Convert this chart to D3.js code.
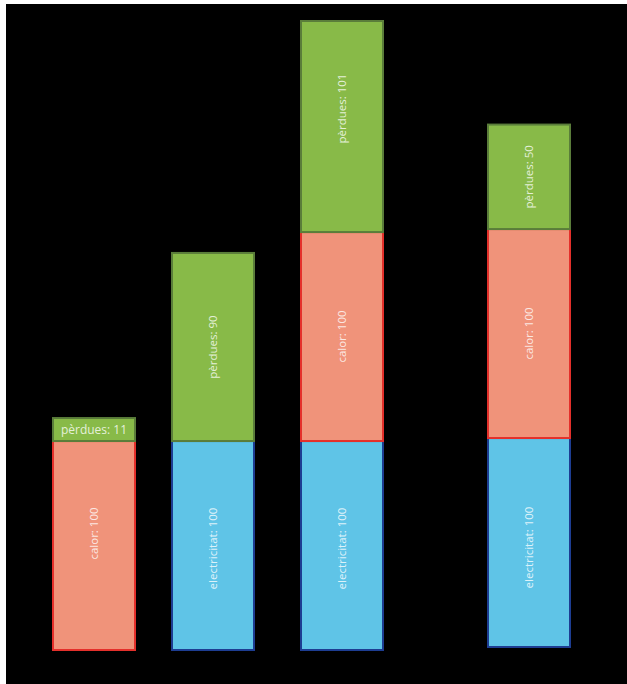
<!DOCTYPE html>
<html>
<head>
<meta charset="utf-8">
<script src="https://cdn.jsdelivr.net/npm/d3@7"></script>
<style>
  html, body { margin: 0; padding: 0; background: #ffffff; }
  svg { display: block; }
</style>
</head>
<body>
<svg id="chart" width="627" height="684"></svg>
<script>
// Four energy-balance columns, stacked bottom to top
const columns = ["c1", "c2", "c3", "c4"];
const electricitat = [0, 100, 100, 100];
const calor = [100, 0, 100, 100];
const perdues = [11, 90, 101, 50];

const seriesKeys = ["electricitat", "calor", "pèrdues"];
const seriesStyle = {
  "electricitat": { fill: "#5fc4e7", stroke: "#1d3d92" },
  "calor":        { fill: "#f0937a", stroke: "#e4302b" },
  "pèrdues":      { fill: "#88ba48", stroke: "#5a7d3a" }
};

const rows = columns.map((c, i) => ({
  col: c,
  "electricitat": electricitat[i],
  "calor": calor[i],
  "pèrdues": perdues[i]
}));

const W = 627, H = 684;
const svg = d3.select("#chart");

// dark panel
svg.append("rect")
  .attr("x", 6).attr("y", 4)
  .attr("width", W - 6).attr("height", H - 4)
  .attr("fill", "#000000");

// column placement (uneven spacing) and small baseline shifts
const xLeft = d3.scaleOrdinal().domain(columns).range([53, 172, 301, 488]);
const baseShift = d3.scaleOrdinal().domain(columns).range([0, 0, 0, -3]);
const barW = 82;

// hand-tuned nudges for a few segment labels (pixels along the bar)
const labelNudge = { "c1|calor": -12, "c3|pèrdues": -18, "c2|electricitat": 3, "c3|electricitat": 3, "c4|electricitat": 5 };

const y = d3.scaleLinear().domain([0, 301]).range([650, 21]);

const stacked = d3.stack().keys(seriesKeys)(rows);

const layer = svg.append("g").selectAll("g")
  .data(stacked)
  .join("g");

const segs = layer.selectAll("g.seg")
  .data(s => s.map(d => ({ key: s.key, col: d.data.col, y0: d[0], y1: d[1], v: d.data[s.key] })).filter(d => d.v > 0))
  .join("g")
  .attr("class", "seg");

segs.append("rect")
  .attr("x", d => xLeft(d.col))
  .attr("y", d => y(d.y1) + baseShift(d.col))
  .attr("width", barW)
  .attr("height", d => y(d.y0) - y(d.y1))
  .attr("fill", d => seriesStyle[d.key].fill)
  .attr("stroke", d => seriesStyle[d.key].stroke)
  .attr("stroke-width", 2);

const isShort = d => (y(d.y0) - y(d.y1)) < 40;

segs.append("text")
  .attr("transform", d => {
    const cx = xLeft(d.col) + barW / 2;
    const cy = (y(d.y0) + y(d.y1)) / 2 + baseShift(d.col) + (labelNudge[d.col + "|" + d.key] || 0);
    return isShort(d) ? `translate(${cx},${cy})` : `translate(${cx},${cy}) rotate(-90)`;
  })
  .attr("text-anchor", "middle")
  .attr("dy", "0.35em")
  .attr("fill", "#ffffff")
  .attr("fill-opacity", 0.8)
  .attr("font-family", "'Open Sans', 'Noto Sans', sans-serif")
  .attr("font-size", d => isShort(d) ? 12 : 11.5)
  .text(d => `${d.key}: ${d.v}`);
</script>
</body>
</html>
